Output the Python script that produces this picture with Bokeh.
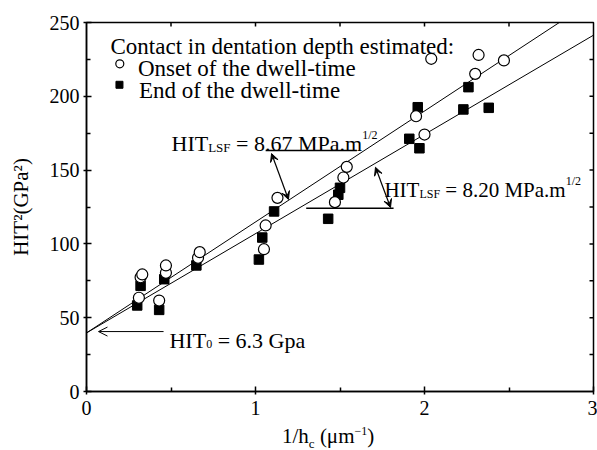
from bokeh.plotting import figure
from bokeh.layouts import column
from bokeh.models import (Label, Arrow, VeeHead, OpenHead, FixedTicker, Range1d, Div)
from bokeh.embed import file_html
from bokeh.resources import INLINE

# ---- data ----
onset_x = [0.31, 0.32, 0.33, 0.43, 0.47, 0.47, 0.66, 0.67, 1.05, 1.06,
           1.13, 1.47, 1.52, 1.54, 1.95, 2.00, 2.04, 2.30, 2.32, 2.47]
onset_y = [63.5, 77.4, 79.3, 61.6, 80.4, 85.4, 90.6, 94.4, 96.4, 112.5,
           131.2, 128.3, 145.0, 152.2, 186.5, 174.1, 225.4, 215.2, 228.0, 224.3]

end_x = [0.30, 0.32, 0.43, 0.46, 0.65, 1.02, 1.04, 1.11, 1.43, 1.49,
         1.50, 1.91, 1.96, 1.97, 2.23, 2.26, 2.38]
end_y = [58.3, 71.6, 55.3, 76.1, 85.4, 89.4, 104.3, 122.0, 117.0, 133.3,
         138.0, 171.2, 192.6, 164.8, 191.1, 206.2, 192.2]

# fit parameters: HIT^2 = HIT0^2 + HIT_LSF^2 / hc
hit0 = 6.3
hit_lsf_onset = 8.67
hit_lsf_end = 8.20
fit_x = [0.0, 3.0]
fit_onset_y = [hit0 ** 2 + hit_lsf_onset ** 2 * x for x in fit_x]
fit_end_y = [hit0 ** 2 + hit_lsf_end ** 2 * x for x in fit_x]

x_ticks = [0, 1, 2, 3]
x_minor = [0.5, 1.5, 2.5]
y_ticks = [0, 50, 100, 150, 200, 250]
y_minor = [25, 75, 125, 175, 225]
top_ticks = [0.5, 1.0, 1.5, 2.0, 2.5]
right_ticks = [25, 50, 75, 100, 125, 150, 175, 200, 225]

X_MAX, Y_MAX = 3.0, 250.0
FRAME_W, FRAME_H = 507, 369
PX_X = FRAME_W / X_MAX   # px per x unit
PX_Y = FRAME_H / Y_MAX   # px per y unit

FONT = "Liberation Serif"

# Times / Liberation Serif advance widths (per 1000 em)
W = {'H': 722, 'I': 333, 'T': 611, 'L': 611, 'S': 556, 'F': 556, ' ': 250,
     '=': 564, '.': 250, 'M': 889, 'P': 556, 'a': 444, 'm': 778, '/': 278,
     'G': 722, 'p': 500, 'h': 500, 'c': 444, '(': 333, ')': 333}
for d in "0123456789":
    W[d] = 500


def tw(text, size):
    return sum(W.get(ch, 500) for ch in text) * size / 1000.0


p = figure(width=597, height=426, x_range=Range1d(0, X_MAX), y_range=Range1d(0, Y_MAX),
           output_backend="svg", toolbar_location=None,
           min_border_left=86, min_border_right=4, min_border_top=22,
           min_border_bottom=35)
p.grid.visible = False
p.outline_line_color = "black"
p.outline_line_width = 1.5
p.background_fill_color = "white"
p.border_fill_color = "white"


def style_axis(ax):
    ax.axis_line_color = "black"
    ax.axis_line_width = 1.5
    ax.major_tick_line_color = "black"
    ax.minor_tick_line_color = "black"
    ax.major_tick_line_width = 1.5
    ax.minor_tick_line_width = 1.5
    ax.major_label_text_font = FONT
    ax.major_label_text_color = "black"
    ax.major_label_text_font_size = "20px"
    ax.major_tick_in = 5
    ax.major_tick_out = 3
    ax.minor_tick_in = 4
    ax.minor_tick_out = 0


xa = p.xaxis[0]
xa.ticker = FixedTicker(ticks=x_ticks, minor_ticks=x_minor)
style_axis(xa)
xa.major_label_standoff = 6

ya = p.yaxis[0]
ya.ticker = FixedTicker(ticks=y_ticks, minor_ticks=y_minor)
style_axis(ya)
ya.major_label_standoff = 4
ya.axis_label = "HIT²(GPa²)"
ya.axis_label_text_font = FONT
ya.axis_label_text_font_size = "21px"
ya.axis_label_text_font_style = "normal"
ya.axis_label_text_color = "black"
ya.axis_label_standoff = 14

# inner ticks on the top and right frame edges
tick_len = 4
p.segment(x0=top_ticks, y0=[Y_MAX] * len(top_ticks), x1=top_ticks,
          y1=[Y_MAX - tick_len / PX_Y] * len(top_ticks), line_color="black", line_width=1.5)
p.segment(x0=[X_MAX] * len(right_ticks), y0=right_ticks,
          x1=[X_MAX - tick_len / PX_X] * len(right_ticks), y1=right_ticks,
          line_color="black", line_width=1.5)

# fit lines
p.line(fit_x, fit_onset_y, line_color="black", line_width=1)
p.line(fit_x, fit_end_y, line_color="black", line_width=1)

# data
p.scatter(end_x, end_y, marker="square", size=9.5, fill_color="black", line_color="black")
p.scatter(onset_x, onset_y, marker="circle", size=11, fill_color="white",
          line_color="black", line_width=1.2)


def rich(x, y, pieces):
    off = 0.0
    for text, size, dy in pieces:
        if text.startswith(" "):
            off += tw(" ", size)
            text = text[1:]
        p.add_layout(Label(x=x, y=y, x_offset=off, y_offset=dy, text=text,
                           text_font=FONT, text_font_size=f"{size}px",
                           text_baseline="alphabetic", text_align="left",
                           text_color="black"))
        off += tw(text, size)


def plain(x, y, text, size=23):
    p.add_layout(Label(x=x, y=y, text=text, text_font=FONT,
                       text_font_size=f"{size}px", text_baseline="alphabetic",
                       text_color="black"))


# legend
plain(0.142, 233.7, "Contact in dentation depth estimated:")
p.scatter([0.197], [222.0], marker="circle", size=8, fill_color="white",
          line_color="black", line_width=1.2)
p.scatter([0.195], [207.8], marker="square", size=7, fill_color="black", line_color="black")
plain(0.304, 218.8, "Onset of the dwell-time")
plain(0.310, 203.9, "End of the dwell-time")

# annotation 1 : onset slope
rich(0.503, 168.0, [("HIT", 22, 0), ("LSF", 13, -4),
                    (f" = {hit_lsf_onset:.2f} MPa.m", 22, 0), ("1/2", 12, 9)])
p.line([1.06, 1.60], [163.3, 163.3], line_color="black", line_width=1.5)
p.add_layout(Arrow(x_start=1.095, y_start=161.2, x_end=1.195, y_end=130.1,
                   start=VeeHead(size=8, fill_color="black", line_color="black"),
                   end=VeeHead(size=8, fill_color="black", line_color="black"),
                   line_color="black", line_width=1.2))

# annotation 2 : end slope
rich(1.763, 136.2, [("HIT", 21, 0), ("LSF", 12, -4),
                    (f" = {hit_lsf_end:.2f} MPa.m", 21, 0), ("1/2", 12, 9)])
p.line([1.30, 1.817], [124.2, 124.2], line_color="black", line_width=1.5)
p.add_layout(Arrow(x_start=1.710, y_start=151.9, x_end=1.799, y_end=124.7,
                   start=VeeHead(size=8, fill_color="black", line_color="black"),
                   end=VeeHead(size=8, fill_color="black", line_color="black"),
                   line_color="black", line_width=1.2))

# annotation 3 : intercept
rich(0.491, 34.6, [("HIT", 22, 0), ("0", 12, -4), (f" = {hit0} Gpa", 22, 0)])
p.add_layout(Arrow(x_start=0.456, y_start=40.6, x_end=0.071, y_end=40.6,
                   end=OpenHead(size=9, line_color="black", line_width=1),
                   line_color="black", line_width=1))

# x axis title with subscript / superscript (HTML)
x_title = Div(
    text=("<div style=\"font-family:'Liberation Serif';font-size:21px;line-height:21px;"
          "color:black;white-space:nowrap;padding-left:282px;\">"
          "1/h<sub style=\"font-size:13px;line-height:0\">c</sub> (μm"
          "<sup style=\"font-size:12px;line-height:0\">−1</sup>)</div>"),
    width=597, height=24, margin=(0, 0, 0, 0))

layout = column(p, x_title, spacing=0)
open("out.html", "w").write(file_html(layout, INLINE))
